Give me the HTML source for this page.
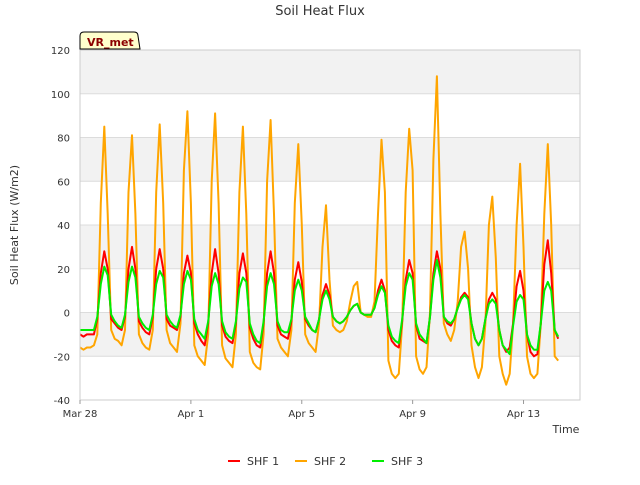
<!DOCTYPE html>
<html><head><meta charset="utf-8"><style>
body{margin:0;background:#fff;font-family:"Liberation Sans","DejaVu Sans",sans-serif;}
svg text{font-family:"DejaVu Sans","Liberation Sans",sans-serif;}
</style></head><body>
<svg id="c" width="640" height="480" viewBox="0 0 640 480" xmlns="http://www.w3.org/2000/svg">
<rect width="640" height="480" fill="#fff"/>
<text x="320" y="15" text-anchor="middle" font-size="13" fill="#333">Soil Heat Flux</text>
<g id="bands"></g><g id="grid"></g><g id="series"></g><g id="axes"></g>
<text x="18" y="225" transform="rotate(-90 18 225)" text-anchor="middle" font-size="11" fill="#333">Soil Heat Flux (W/m2)</text>
<text x="566" y="433" text-anchor="middle" font-size="11" fill="#333">Time</text>
<g>
<path d="M80,49 L80,36 Q80,32 84,32 L134,32 Q138,32 138,36 L140,49 Z" fill="#ffffcc" stroke="#000" stroke-width="1"/>
<text x="87" y="46" font-size="11" font-weight="bold" fill="#8b0000">VR_met</text></g>
<g>
<g><line x1="228" y1="461" x2="240" y2="461" stroke="#ff0000" stroke-width="2"/><text x="247" y="465" font-size="11" fill="#333">SHF 1</text></g>
<g><line x1="295" y1="461" x2="307" y2="461" stroke="#ffa500" stroke-width="2"/><text x="314" y="465" font-size="11" fill="#333">SHF 2</text></g>
<g><line x1="372" y1="461" x2="384" y2="461" stroke="#00ee00" stroke-width="2"/><text x="391" y="465" font-size="11" fill="#333">SHF 3</text></g>
</g>
</svg>
<script>
const yTicks=[-40,-20,0,20,40,60,80,100,120];
const xTickDays=[0,4,8,12,16];
const xTickLabels=["Mar 28","Apr 1","Apr 5","Apr 9","Apr 13"];
const stepDays=1/8;
const shf1=[-10,-11,-10,-10,-10,-3,18,28, 20,-3,-5,-7,-8,-2,20,30, 20,-4,-7,-9,-10,-2,20,29, 20,-3,-6,-7,-8,-2,18,26, 18,-5,-10,-13,-15,-5,18,29, 18,-6,-11,-13,-14,-5,18,27, 18,-7,-12,-15,-16,-5,18,28, 18,-6,-10,-11,-12,-4,15,23, 14,-3,-6,-8,-9,-3,8,13, 8,-2,-4,-5,-4,-2,1,3, 4,0,-1,-1,-1,2,10,15, 10,-8,-13,-15,-16,-4,15,24, 18,-6,-12,-13,-14,-2,18,28, 20,-2,-5,-6,-3,2,7,9, 7,-5,-12,-15,-12,-3,6,9, 6,-8,-15,-18,-16,-5,12,19, 10,-10,-18,-20,-19,-5,22,33, 18,-8,-12];
const shf2=[-16,-17,-16,-16,-15,-10,50,85, 45,-8,-12,-13,-15,-8,55,81, 45,-10,-14,-16,-17,-8,55,86, 50,-8,-14,-16,-18,-5,65,92, 50,-15,-20,-22,-24,-10,60,91, 50,-15,-21,-23,-25,-10,55,85, 45,-18,-23,-25,-26,-10,60,88, 45,-12,-16,-18,-20,-8,50,77, 40,-10,-14,-16,-18,-5,30,49, 15,-6,-8,-9,-8,-4,5,12, 14,0,-1,-2,-2,5,45,79, 55,-22,-28,-30,-28,-5,55,84, 65,-20,-26,-28,-25,0,70,108, 45,-5,-10,-13,-8,5,30,37, 20,-15,-25,-30,-25,-5,40,53, 25,-20,-28,-33,-28,-5,40,68, 30,-20,-28,-30,-28,-5,45,77, 40,-20,-22];
const shf3=[-8,-8,-8,-8,-8,-2,13,21, 17,-1,-4,-6,-7,-1,14,21, 16,-2,-5,-7,-8,-1,13,19, 16,-1,-4,-6,-7,-1,13,19, 15,-3,-8,-10,-12,-4,12,18, 13,-4,-9,-11,-12,-4,11,16, 14,-5,-10,-13,-14,-4,12,18, 13,-4,-8,-9,-9,-3,10,15, 10,-2,-5,-8,-9,-3,6,10, 6,-2,-4,-5,-4,-2,1,3, 4,0,-1,-1,-1,2,8,12, 9,-6,-11,-13,-14,-3,12,18, 15,-5,-10,-12,-14,-2,15,24, 16,-2,-4,-5,-3,2,6,8, 6,-5,-12,-15,-12,-3,4,6, 4,-8,-15,-17,-19,-6,5,8, 6,-10,-15,-17,-17,-5,10,14, 10,-8,-11];
const L=80,R=580,T=50,B=400;
const xS=d=>L+d*27.72;
const yS=v=>B-(v+40)*(B-T)/160;
const NS="http://www.w3.org/2000/svg";
function mk(tag,attrs,parent){const e=document.createElementNS(NS,tag);for(const k in attrs)e.setAttribute(k,attrs[k]);parent.appendChild(e);return e;}
const bands=document.getElementById('bands'),grid=document.getElementById('grid'),axes=document.getElementById('axes'),series=document.getElementById('series');
mk('rect',{x:L,y:T,width:R-L,height:B-T,fill:'#fff'},bands);
for(let i=0;i<yTicks.length-1;i++){
  if(i%2===1){const r=mk('rect',{x:L,y:yS(yTicks[i+1]),width:R-L,height:yS(yTicks[i])-yS(yTicks[i+1]),fill:'#f2f2f2'},bands);
  
  }
}
yTicks.forEach(v=>{
  const g=mk('line',{x1:L,x2:R,y1:yS(v),y2:yS(v),stroke:'#dcdcdc','stroke-width':1},grid);
  
  
  const t=mk('text',{x:L-10,y:yS(v)+4,'text-anchor':'end','font-size':10,fill:'#333'},axes);
  t.textContent=v;
  
  
});
mk('rect',{x:L,y:T,width:R-L,height:B-T,fill:'none',stroke:'#ccc'},axes);
xTickDays.forEach((d,i)=>{
  mk('line',{x1:xS(d),x2:xS(d),y1:B,y2:B+4,stroke:'#999'},axes);
  const t=mk('text',{x:xS(d),y:B+17,'text-anchor':'middle','font-size':10,fill:'#333'},axes);
  t.textContent=xTickLabels[i];
  
  
});
[[shf2,'#ffa500','shf2-line'],[shf1,'#ff0000','shf1-line'],[shf3,'#00ee00','shf3-line']].forEach(([arr,col,name])=>{
  const d=arr.map((v,i)=>(i?'L':'M')+xS(i*stepDays).toFixed(1)+','+yS(v).toFixed(1)).join(' ');
  const p=mk('path',{d:d,fill:'none',stroke:col,'stroke-width':2,'stroke-linejoin':'round'},series);
  
  
});
</script>
</body></html>
